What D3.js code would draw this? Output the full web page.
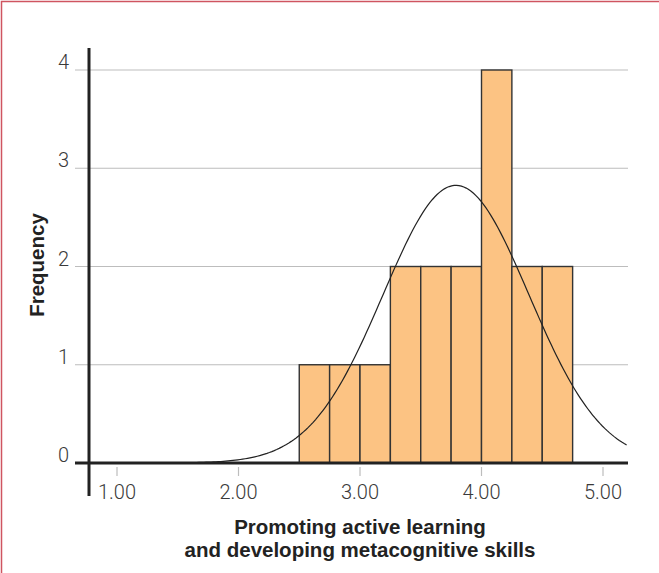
<!DOCTYPE html>
<html lang="en">
    <head>
        <meta charset="utf-8">
        <title>Histogram</title>
        <script src="https://d3js.org/d3.v7.min.js"></script>
        <style type="text/css">
            body { margin: 0; background: #fff; }
            .tick-label { font-family: Roboto, "Liberation Sans", sans-serif; font-weight: 300; font-size: 20px; fill: #3a3a3a; }
            .title { font-family: "Liberation Sans", Arial, sans-serif; font-weight: bold; font-size: 20.5px; fill: #222; }
        </style>
    </head>
    <body>
        <script type="text/javascript">

            const w = 659;
            const h = 573;

            // histogram bins (lower edge) and counts
            const binStarts = [2.50, 2.75, 3.00, 3.25, 3.50, 3.75, 4.00, 4.25, 4.50];
            const counts = [1, 1, 1, 2, 2, 2, 4, 2, 2];
            const binWidth = 0.25;
            const xTicks = [1, 2, 3, 4, 5];
            const yTicks = [0, 1, 2, 3, 4];

            // fitted normal curve
            const fitMean = 3.79;
            const fitSd = 0.60;

            const xScale = d3.scaleLinear()
                .domain([1, 5])
                .range([117, 603]);

            const yScale = d3.scaleLinear()
                .domain([0, 4])
                .range([463, 70]);

            const xLeft = 75, xRight = 628;

            const svg = d3.select("body")
                .append("svg")
                .attr("width", w)
                .attr("height", h);

            // frame
            svg.append("rect")
                .attr("x", 1.5)
                .attr("y", 1.5)
                .attr("width", w + 10)
                .attr("height", h + 10)
                .attr("fill", "none")
                .attr("stroke", "#cf5560")
                .attr("stroke-width", 1.5);

            // gridlines
            svg.selectAll(".grid")
                .data(yTicks.filter(d => d > 0))
                .enter()
                .append("line")
                .attr("x1", xLeft)
                .attr("x2", xRight)
                .attr("y1", d => yScale(d))
                .attr("y2", d => yScale(d))
                .attr("stroke", "#bdbdbd")
                .attr("stroke-width", 1.2);

            // y labels
            svg.selectAll(".ylab")
                .data(yTicks)
                .enter()
                .append("text")
                .attr("class", "tick-label")
                .attr("x", 69)
                .attr("y", d => yScale(d) - 1)
                .attr("text-anchor", "end")
                .text(d => d);

            // bars
            svg.selectAll(".bar")
                .data(binStarts)
                .enter()
                .append("rect")
                .attr("x", d => xScale(d))
                .attr("y", (d, i) => yScale(counts[i]))
                .attr("width", d => xScale(d + binWidth) - xScale(d))
                .attr("height", (d, i) => yScale(0) - yScale(counts[i]))
                .attr("fill", "#fcc383")
                .attr("stroke", "#333")
                .attr("stroke-width", 1.4);

            // normal curve
            const n = d3.sum(counts);
            const curveX = d3.range(xScale.invert(xLeft), xScale.invert(xRight) + 0.001, 0.02);
            const line = d3.line()
                .x(d => xScale(d))
                .y(d => yScale(n * binWidth * Math.exp(-0.5 * ((d - fitMean) / fitSd) ** 2) / (fitSd * Math.sqrt(2 * Math.PI))));

            svg.append("path")
                .attr("d", line(curveX))
                .attr("fill", "none")
                .attr("stroke", "#222")
                .attr("stroke-width", 1.2);

            // x ticks
            svg.selectAll(".xtick")
                .data(xTicks)
                .enter()
                .append("line")
                .attr("x1", d => xScale(d))
                .attr("x2", d => xScale(d))
                .attr("y1", 467)
                .attr("y2", 476)
                .attr("stroke", "#bdbdbd")
                .attr("stroke-width", 1.2);

            svg.selectAll(".xlab")
                .data(xTicks)
                .enter()
                .append("text")
                .attr("class", "tick-label")
                .attr("x", d => xScale(d))
                .attr("y", 499)
                .attr("text-anchor", "middle")
                .text(d => d3.format(".2f")(d));

            // axis lines
            svg.append("line")
                .attr("x1", xLeft)
                .attr("x2", xRight)
                .attr("y1", 463)
                .attr("y2", 463)
                .attr("stroke", "#222")
                .attr("stroke-width", 3);

            svg.append("line")
                .attr("x1", 89)
                .attr("x2", 89)
                .attr("y1", 48)
                .attr("y2", 496)
                .attr("stroke", "#222")
                .attr("stroke-width", 3);

            // axis titles
            svg.append("text")
                .attr("class", "title")
                .attr("x", 360)
                .attr("y", 534)
                .attr("text-anchor", "middle")
                .text("Promoting active learning");

            svg.append("text")
                .attr("class", "title")
                .attr("x", 360)
                .attr("y", 557)
                .attr("text-anchor", "middle")
                .text("and developing metacognitive skills");

            svg.append("text")
                .attr("class", "title")
                .attr("transform", "translate(44,265) rotate(-90)")
                .attr("text-anchor", "middle")
                .text("Frequency");

        </script>
    </body>
</html>
